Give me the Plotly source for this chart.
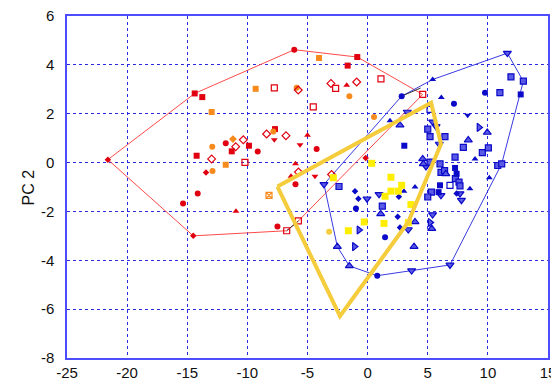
import plotly.graph_objects as go

# ---------------- data ----------------
# red / orange group points: x, y, kind
red_x = [-21.6, -14.38, -13.75, -12.97, -9.31, -7.76, -5.9, -5.77, -6.1, -4.04, -0.86, -1.66,
         -3.05, -2.66, -1.74, -0.91, -1.52, 1.11, -4.52, 4.58, 0.53, -7.7, -7.84, -8.4, -6.79,
         -7.76, -5.62, -5.0, -4.24, -11.2, -10.34, -11.8, -10.97, -12.92, -9.87, -11.3, -9.14,
         -14.22, -12.97, -11.8, -10.2, -13.44, -12.9, -6.0, -5.75, -6.37, -6.0, -4.38, -3.0,
         -0.16, -14.13, -15.35, -8.2, -10.95, -7.5, -6.73, -5.76, -14.5]
red_y = [0.12, 2.83, 2.68, 2.07, 3.02, 3.06, 3.06, 2.97, 4.62, 4.28, 4.32, 3.97,
         3.24, 3.04, 3.17, 3.30, 2.72, 3.43, 2.28, 2.79, 1.87, 1.37, 1.27, 1.17, 1.10,
         0.93, 0.73, 1.12, 0.56, 0.96, 0.93, 0.79, 0.65, 0.65, 0.69, 0.46, 0.45,
         0.28, 0.15, -0.09, 0.01, -0.41, -0.34, -0.05, -0.39, -0.56, -0.89, -0.56, -0.49,
         0.19, -1.27, -1.68, -1.34, -1.99, -2.62, -2.79, -2.39, -3.0]
red_kind = ["r_di", "r_sq", "r_sq", "o_sq", "o_sq", "r_sqo", "o_ci", "r_dio", "r_ci", "o_sq", "r_sq", "r_sq",
            "r_dio", "r_sqo", "r_tu", "r_dio", "o_ci", "r_sqo", "r_sqo", "r_sqo", "o_ci", "r_sq", "o_ci", "r_dio", "r_dio",
            "r_td", "r_td", "r_tu", "r_ci", "o_di", "r_dio", "r_ci", "r_dio", "o_ci", "r_sq", "r_sq", "r_ci",
            "r_sq", "r_dio", "o_sq", "r_sqo", "r_di", "o_ci", "r_tu", "r_dio", "r_tu", "r_ci", "r_td", "r_dio",
            "r_di", "r_ci", "r_ci", "o_sqh", "r_tu", "r_ci", "r_sqo", "r_sqo", "r_di"]

# yellow group
yel_x = [0.34, -2.85, 1.94, 2.83, 2.55, 1.94, 1.45, 3.6, -0.28, 1.36, -1.6, 3.38, -3.2]
yel_y = [-0.03, -0.62, -0.6, -0.93, -1.17, -1.17, -1.38, -1.72, -2.43, -2.49, -2.79, -2.46, -2.83]
yel_kind = ["y_sq"] * 12 + ["y_ci"]

# blue group
blue_x = [2.83, 5.41, 11.62, 12.95, 11.92, 12.73, 9.76, 11.0, 7.18, 6.13, 8.32, 3.3, 1.86, 2.69,
          5.19, 5.0, 5.69, 5.19, 6.43, 5.96, 3.05, 9.26, 9.95, 8.37, 7.96, 9.54, 10.04, 8.93,
          7.27, 10.82, 11.15, 4.58, 4.63, 4.85, 5.19, 6.02, 7.27, 6.1, 6.4, 6.5, 7.4, 7.3,
          6.02, 6.85, 7.6, 7.68, 8.51, 10.12, 7.68, 7.8, 7.4, 5.3, 5.9, 5.0, 6.1, 3.94, 3.02,
          2.6, -1.05, -0.77, -0.05, 0.95, 1.22, -0.97, 1.09, 2.5, 2.69, 1.45, 3.94, 3.38,
          -0.72, -1.1, -2.52, 3.86, -1.52, 0.8, 3.66, 6.85, -3.63, -2.38, 5.4, 5.41, 5.2, 5.33]
blue_y = [2.72, 3.40, 4.48, 3.33, 3.51, 2.79, 2.86, 2.86, 2.41, 2.66, 1.94, 2.07, 1.71, 1.53,
          2.18, 1.37, 1.48, 1.06, 1.06, 0.76, 0.69, 1.44, 1.23, 0.92, 0.62, 0.41, 0.6, 0.15,
          0.22, -0.12, -0.05, 0.15, -0.05, -0.16, 0.02, -0.05, -0.22, -0.4, -0.33, -0.46, -0.46, -0.66,
          -0.93, -0.93, -0.8, -0.95, -1.07, -0.62, -1.27, -1.54, -1.27, -1.21, -1.21, -1.41, -1.34, -1.0, -1.17,
          -1.4, -1.17, -1.48, -1.48, -1.3, -1.78, -1.88, -2.1, -2.22, -2.66, -3.06, -2.43, -2.74,
          -2.76, -3.44, -3.44, -3.44, -4.23, -4.63, -4.42, -4.19, -0.89, -0.98, -2.13, 1.67, -2.45, -2.7]
blue_kind = ["b_ci", "b_tu", "b_tdh", "b_sqh", "b_sqh", "b_sq", "b_ci", "b_sqh", "b_ci", "b_tu", "b_td", "b_tdh", "b_tu", "b_tuh",
             "b_sqo", "b_sqh", "b_tdh", "b_sqh", "b_sqh", "b_tdh", "b_sq", "b_trh", "b_tuh", "b_tuh", "b_sqh", "b_sqh", "b_sqh", "b_tu",
             "b_sqh", "b_sqh", "b_sqh", "b_tuh", "b_tuh", "b_tdh", "b_sqh", "b_sqh", "b_sq", "b_sqh", "b_sqh", "b_tuh", "b_sq", "b_sqh",
             "b_sq", "b_sqo", "b_sqh", "b_sqh", "b_tu", "b_tu", "b_tdh", "b_tdh", "b_di", "b_sqh", "b_sq", "b_sqh", "b_tdh", "b_tu", "b_tu",
             "b_di", "b_di", "b_di", "b_tdh", "b_tdh", "b_sqh", "b_ci", "b_tuh", "b_di", "b_di", "b_ci", "b_tuh", "b_tdh",
             "b_trh", "b_trh", "b_tuh", "b_tuh", "b_tuh", "b_ci", "b_tdh", "b_tdh", "b_tdh", "b_sqh", "b_tdh", "b_tdh", "b_trh", "b_tuh"]

# hull outlines
red_hull_x = [-21.6, -14.38, -6.1, -0.86, 4.58, -5.76, -6.73, -14.5, -21.6]
red_hull_y = [0.12, 2.83, 4.62, 4.32, 2.79, -2.39, -2.79, -3.0, 0.12]
blue_hull_x = [-3.63, 2.83, 5.41, 11.62, 12.95, 11.15, 6.85, 3.66, 0.8, -1.52, -2.52, -3.63]
blue_hull_y = [-0.89, 2.72, 3.40, 4.48, 3.33, -0.05, -4.19, -4.42, -4.63, -4.23, -3.44, -0.89]
yel_hull_x = [-7.5, 5.28, 6.1, 3.38, -2.3, -7.5]
yel_hull_y = [-0.98, 2.45, 0.76, -2.43, -6.29, -0.98]
dark_seg1_x = [2.83, 4.4]
dark_seg1_y = [2.72, 3.05]
dark_seg2_x = [-6.73, -5.76]
dark_seg2_y = [-2.79, -2.39]

x_ticks = [-25, -20, -15, -10, -5, 0, 5, 10, 15]
y_ticks = [-8, -6, -4, -2, 0, 2, 4, 6]

# ---------------- styles ----------------
RED = "#e00010"
ORANGE = "#f78a1d"
BLUE = "#0a0ac8"
LBLUE = "#5a5ae4"
YEL = "#ffee00"
GOLD = "#f5cc3c"

styles = {
    "r_sq": dict(symbol="square", color=RED, size=6),
    "r_ci": dict(symbol="circle", color=RED, size=6),
    "r_tu": dict(symbol="triangle-up", color=RED, size=6),
    "r_td": dict(symbol="triangle-down", color=RED, size=6),
    "r_di": dict(symbol="diamond", color=RED, size=5),
    "r_dio": dict(symbol="diamond-open", color=RED, size=6),
    "r_sqo": dict(symbol="square-open", color=RED, size=6),
    "o_sq": dict(symbol="square", color=ORANGE, size=6),
    "o_ci": dict(symbol="circle", color=ORANGE, size=6),
    "o_di": dict(symbol="diamond", color=ORANGE, size=6),
    "o_sqh": dict(symbol="square-x-open", color=ORANGE, size=6),
    "y_sq": dict(symbol="square", color=YEL, size=7),
    "y_ci": dict(symbol="circle", color=GOLD, size=6),
    "b_sq": dict(symbol="square", color=BLUE, size=6),
    "b_sqo": dict(symbol="square-open", color=BLUE, size=6),
    "b_ci": dict(symbol="circle", color=BLUE, size=6),
    "b_tu": dict(symbol="triangle-up", color=BLUE, size=6),
    "b_td": dict(symbol="triangle-down", color=BLUE, size=6),
    "b_di": dict(symbol="diamond", color=BLUE, size=5),
    "b_sqh": dict(symbol="square", color=LBLUE, size=6, line=BLUE),
    "b_tuh": dict(symbol="triangle-up", color=LBLUE, size=7, line=BLUE),
    "b_tdh": dict(symbol="triangle-down", color=LBLUE, size=7, line=BLUE),
    "b_trh": dict(symbol="triangle-right", color=LBLUE, size=7, line=BLUE),
}

fig = go.Figure()

# hull lines
fig.add_trace(go.Scatter(x=red_hull_x, y=red_hull_y, mode="lines",
                         line=dict(color="#ff4a4a", width=1), hoverinfo="skip"))
fig.add_trace(go.Scatter(x=blue_hull_x, y=blue_hull_y, mode="lines",
                         line=dict(color="#3a3ae0", width=1), hoverinfo="skip"))
for sx, sy in [(dark_seg1_x, dark_seg1_y), (dark_seg2_x, dark_seg2_y)]:
    fig.add_trace(go.Scatter(x=sx, y=sy, mode="lines",
                             line=dict(color="#333333", width=1), hoverinfo="skip"))


def add_group(xs, ys, kinds):
    order = []
    for k in kinds:
        if k not in order:
            order.append(k)
    for k in order:
        px = [x for x, kk in zip(xs, kinds) if kk == k]
        py = [y for y, kk in zip(ys, kinds) if kk == k]
        st = styles[k]
        mk = dict(symbol=st["symbol"], color=st["color"], size=st["size"])
        if "line" in st:
            mk["line"] = dict(color=st["line"], width=1.2)
        elif st["symbol"].endswith("open"):
            mk["line"] = dict(color=st["color"], width=1.2)
        else:
            mk["line"] = dict(width=0)
        fig.add_trace(go.Scatter(x=px, y=py, mode="markers", marker=mk))


add_group(red_x, red_y, red_kind)
add_group(blue_x, blue_y, blue_kind)
add_group(yel_x, yel_y, yel_kind)

fig.add_trace(go.Scatter(x=yel_hull_x, y=yel_hull_y, mode="lines",
                         line=dict(color=GOLD, width=4), hoverinfo="skip"))

axis_common = dict(
    showgrid=True, gridcolor="#2a2ae0", griddash="dot", gridwidth=1,
    zeroline=False, showline=True, linecolor="#4d4dff", linewidth=1.5, mirror=True,
    ticks="", ticklabeloverflow="allow", automargin=False,
    tickfont=dict(family="Liberation Sans, Arial", size=15, color="#111111"),
)

fig.update_xaxes(range=[-25, 15], tickvals=x_ticks, ticktext=[str(v) for v in x_ticks], **axis_common)
fig.update_yaxes(range=[-8, 6], tickvals=y_ticks, ticktext=[str(v) for v in y_ticks],
                 ticklabelstandoff=8, **axis_common)

fig.add_annotation(text="PC 2", xref="paper", yref="paper", x=-0.102, y=0.50,
                   textangle=-90, showarrow=False,
                   font=dict(family="Liberation Sans, Arial", size=16, color="#111111"))

# the page body adds an 8px offset, so margins are compensated
fig.update_layout(
    width=559, height=387,
    margin=dict(l=59, r=19, t=8, b=37),
    paper_bgcolor="white", plot_bgcolor="white",
    showlegend=False,
)

fig.write_html("out.html")
